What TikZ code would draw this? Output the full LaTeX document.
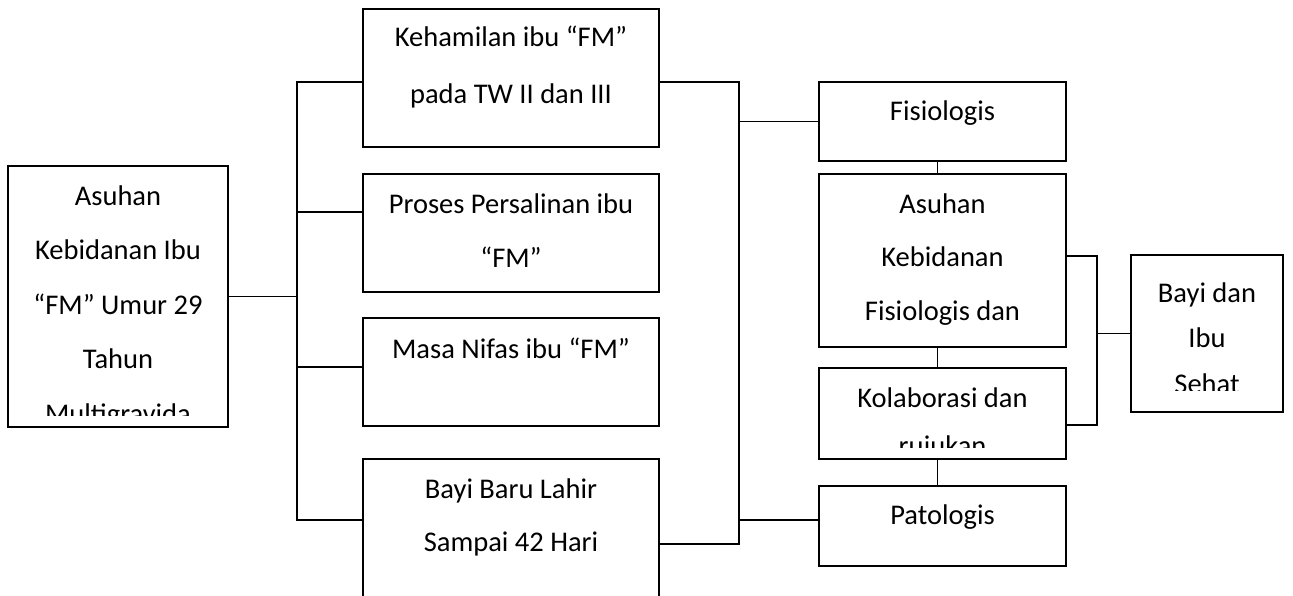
\documentclass[tikz,border=0pt]{standalone}
\usepackage{fontspec}
\setmainfont{Carlito}
\tikzset{
  kotakgaris/.style={draw, line width=2.8pt, inner sep=0pt, outer sep=0pt},
  isi/.style={anchor=north, align=center, inner sep=0pt, font=\fontsize{28.5}{54.5}\selectfont},
  garis/.style={line width=1.2pt},
}
\newcommand{\kotak}[5]{%
\node[kotakgaris, minimum width={#4-#2}, minimum height={#5-#3}] (#1) at ({(#2+#4)/2},{(#3+#5)/2}) {};
}
% baris pertama: garis dasar #3 di bawah tepi atas
\newcommand{\isikotak}[5][]{%
\begin{scope}
\clip ([yshift=#4]#2.south west) rectangle (#2.north east);
\node[isi,#1] (#2-isi) at ([yshift=25pt-#3]#2.north) {\rule{0pt}{25pt}#5};
\end{scope}
}

\begin{document}
\begin{tikzpicture}[x=1pt, y=-1pt]
\useasboundingbox (0,0) rectangle (1293,596);
\clip (0,0) rectangle (1293,596);

% kotak kiri dan tengah
\kotak{ibu}{8}{166}{228}{427}
\kotak{hamil}{363}{9}{659}{147}
\kotak{salin}{363}{174}{659}{292}
\kotak{nifas}{363}{318}{659}{426}
\kotak{bbl}{363}{459}{659}{620}

% kotak kanan
\kotak{fisio}{819}{82}{1066}{161}
\kotak{akf}{819}{174}{1066}{347}
\kotak{kolab}{819}{368}{1066}{459}
\kotak{pato}{819}{486}{1066}{566}
\kotak{sehat}{1131}{255}{1283}{412}

\isikotak{ibu}{39pt}{12pt}{Asuhan\\Kebidanan Ibu\\“FM” Umur 29\\Tahun\\Multigravida}
\isikotak[font=\fontsize{28.5}{57}\selectfont]{hamil}{37pt}{3pt}{Kehamilan ibu “FM”\\pada TW II dan III}
\isikotak{salin}{39pt}{3pt}{Proses Persalinan ibu\\“FM”}
\isikotak{nifas}{40pt}{3pt}{Masa Nifas ibu “FM”}
\isikotak[font=\fontsize{28.5}{53}\selectfont]{bbl}{39pt}{3pt}{Bayi Baru Lahir\\Sampai 42 Hari}
\isikotak{fisio}{38pt}{3pt}{Fisiologis}
\isikotak[font=\fontsize{28.5}{53.5}\selectfont]{akf}{39pt}{3pt}{Asuhan\\Kebidanan\\Fisiologis dan}
\isikotak[font=\fontsize{28.5}{48}\selectfont]{kolab}{39pt}{12pt}{Kolaborasi dan\\rujukan}
\isikotak{pato}{38pt}{3pt}{Patologis}
\isikotak[font=\fontsize{28.5}{45.5}\selectfont]{sehat}{47pt}{22pt}{Bayi dan\\Ibu\\Sehat}

% garis penghubung kiri
\coordinate (kiriAtas) at (297,82);
\coordinate (kiriBawah) at (297,520);
\draw[garis] (ibu.east) -- (ibu.east -| kiriAtas);
\draw[garis] (hamil.west |- kiriAtas) -- (kiriAtas) -- (kiriBawah) -- (kiriBawah -| bbl.west);
\draw[garis] ([yshift=21pt]salin.west) -- ([yshift=21pt]salin.west -| kiriAtas);
\draw[garis] ([yshift=5pt]nifas.west) -- ([yshift=5pt]nifas.west -| kiriAtas);

% garis penghubung tengah
\coordinate (tengahAtas) at (739,82);
\coordinate (tengahBawah) at (739,544);
\draw[garis] (hamil.east |- tengahAtas) -- (tengahAtas) -- (tengahBawah) -- (tengahBawah -| bbl.east);
\draw[garis] (fisio.west) -- (fisio.west -| tengahAtas);
\draw[garis] ([yshift=6pt]pato.west) -- ([yshift=6pt]pato.west -| tengahAtas);

% garis penghubung kanan
\draw[garis] ([xshift=-5pt]fisio.south) -- ([xshift=-5pt]akf.north);
\draw[garis] ([xshift=-5pt]akf.south) -- ([xshift=-5pt]kolab.north);
\draw[garis] ([xshift=-5pt]kolab.south) -- ([xshift=-5pt]pato.north);
\coordinate (kananAtas) at (1097,256);
\coordinate (kananBawah) at (1097,425);
\draw[garis] (akf.east |- kananAtas) -- (kananAtas) -- (kananBawah) -- (kananBawah -| kolab.east);
\draw[garis] (sehat.west) -- (sehat.west -| kananAtas);

\end{tikzpicture}
\end{document}
